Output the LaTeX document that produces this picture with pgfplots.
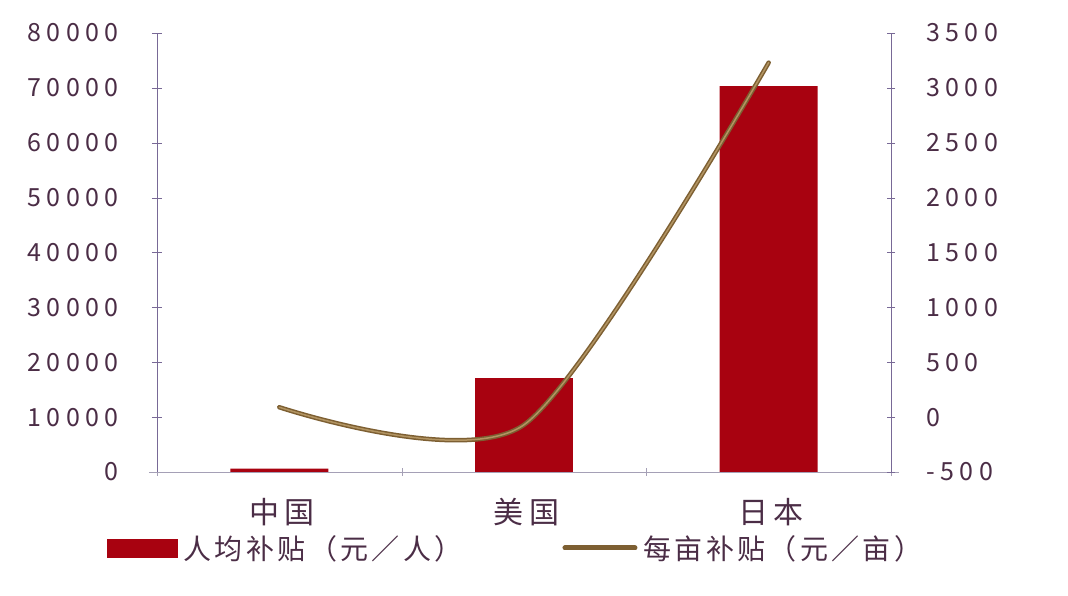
\documentclass[border=0pt]{standalone}
\usepackage{fontspec}
\usepackage{pgfplots}
\pgfplotsset{compat=1.18}
\setmainfont{Noto Sans CJK SC}
\newfontfamily\numfont[LetterSpace=22]{Noto Sans CJK SC}
\newfontfamily\cjkfont[LetterSpace=17]{Noto Sans CJK SC}
\newfontfamily\legfont[LetterSpace=12]{Noto Sans CJK SC}
\definecolor{barred}{RGB}{168,2,16}
\definecolor{linedark}{RGB}{125,95,50}
\definecolor{linelight}{RGB}{178,148,98}
\definecolor{yaxcol}{RGB}{120,105,150}
\definecolor{xaxcol}{RGB}{165,160,182}
\definecolor{txt}{RGB}{75,45,70}
\begin{document}
\begin{tikzpicture}
\useasboundingbox (-157pt,-124pt) rectangle (911pt,472pt);
\pgfplotsset{
  common/.style={
    scale only axis, width=734pt, height=439pt,
    xmin=-0.5, xmax=2.5,
    tick align=outside,
    /pgf/number format/assume math mode=true,
    /pgf/number format/1000 sep={},
    scaled y ticks=false,
    tick label style={color=txt},
  }
}
\begin{axis}[common,
  at={(0,0)}, anchor=south west,
  ymin=0, ymax=80000,
  axis x line=bottom, axis y line=left,
  x axis line style={draw=xaxcol, -, shorten <=-8pt, shorten >=-8pt},
  y axis line style={draw=yaxcol, -},
  ytick={0,10000,...,80000},
  major tick length=10pt,
  y tick style={draw=yaxcol},
  yticklabel style={font=\numfont\fontsize{25}{25}\selectfont, anchor=east, inner sep=0pt},
  yticklabel shift=33pt,
  xtick={0,1,2},
  xticklabels={中国,美国,日本},
  major x tick style={draw=none},
  minor xtick={-0.5,0.5,1.5,2.5},
  minor tick length=8pt,
  minor x tick style={draw=xaxcol},
  xticklabel style={font=\cjkfont\fontsize{30}{30}\selectfont, anchor=north, inner sep=0pt, xshift=2.5pt},
  xticklabel shift=21pt,
]
\addplot[ybar, bar width=0.4, fill=barred, draw=none] coordinates {(0,600) (1,17100) (2,70300)};
\end{axis}
\begin{axis}[common,
  at={(0,0)}, anchor=south west,
  ymin=-500, ymax=3500,
  axis x line=none, axis y line=right,
  y axis line style={draw=yaxcol, -},
  ytick={-500,0,...,3500},
  major tick length=8pt,
  y tick style={draw=yaxcol},
  yticklabel style={font=\numfont\fontsize{25}{25}\selectfont, anchor=west, inner sep=0pt},
  yticklabel shift=31pt,
  legend columns=2,
  legend style={at={(0,0)}, anchor=west, xshift=-50pt, yshift=-76pt, draw=none, fill=none,
    inner sep=0pt, font=\legfont\fontsize{28}{28}\selectfont, text=txt,
    /tikz/every even column/.append style={column sep=94pt},
    nodes={inner xsep=6pt, inner ysep=0pt}},
]
\addlegendimage{legend image code/.code={\fill[barred] (0pt,-9pt) rectangle (70pt,9pt);}}
\addlegendentry{人均补贴（元／人）}
\addplot[smooth, tension=0.45, line width=4.5pt, color=linedark, line cap=round,
  legend image code/.code={\draw[linedark, line width=5pt] (0pt,0pt) -- (70pt,0pt);}]
  coordinates {(0,90) (1,-70) (2,3230)};
\addlegendentry{每亩补贴（元／亩）}
\addplot[smooth, tension=0.45, line width=1.5pt, color=linelight, line cap=round, forget plot]
  coordinates {(0,90) (1,-70) (2,3230)};
\end{axis}
\end{tikzpicture}
\end{document}
